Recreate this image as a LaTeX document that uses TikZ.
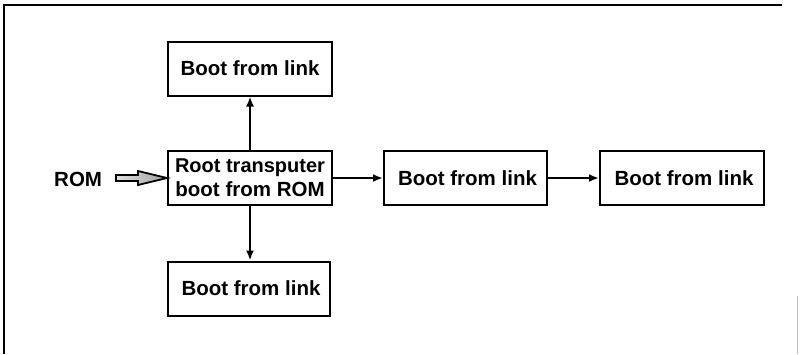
\documentclass[tikz,border=0pt]{standalone}
\usepackage{fontspec}
\setmainfont{Liberation Sans}
\usetikzlibrary{arrows.meta}
\begin{document}
\begin{tikzpicture}[x=1pt,y=-1pt,
  box/.style={draw=black, line width=2pt, minimum width=164pt, minimum height=54pt,
              inner sep=0pt, font=\fontsize{20.5}{24}\selectfont\bfseries, align=center},
  link/.style={draw=black, line width=2pt, -{Latex[length=10pt,width=8pt]}},
  frameline/.style={draw=black, line width=2.4pt}
]
\useasboundingbox (0,0) rectangle (800,354);
% outer frame (open at the bottom)
\draw[frameline] (4,354) -- (4,5) -- (782,5);
\draw[gray!50, line width=0.8pt] (797,296) -- (797,354);

% boxes
\node[box] (root) at (250,178) {\fontsize{20}{24}\selectfont Root transputer\\boot from ROM};
\node[box] (up)   at (250,68.5) {Boot from link};
\node[box, minimum width=162pt] (down) at (249,288.5) {\hspace*{4pt}Boot from link};
\node[box, minimum width=163pt] (mid)  at (465.5,178) {\hspace*{4pt}Boot from link};
\node[box] (far)  at (682,178) {\hspace*{4pt}Boot from link};

% ROM label and fat input arrow
\node[font=\fontsize{20.5}{24}\selectfont\bfseries, anchor=west, inner sep=0pt] (rom) at (54,179) {ROM};
\coordinate (tip) at (root.west);
\filldraw[draw=black, line width=1.8pt, left color=gray!25, right color=gray!75, line join=miter]
  (116,175) -- (138,175) -- (138,171) -- (tip) -- (138,185) -- (138,181) -- (116,181) -- cycle;

% connectors
\draw[link] (root.north) -- (up.south);
\draw[link] (root.south) -- (down.north -| root.south);
\draw[link] (root.east) -- (mid.west);
\draw[link] (mid.east) -- (far.west);
\end{tikzpicture}
\end{document}
